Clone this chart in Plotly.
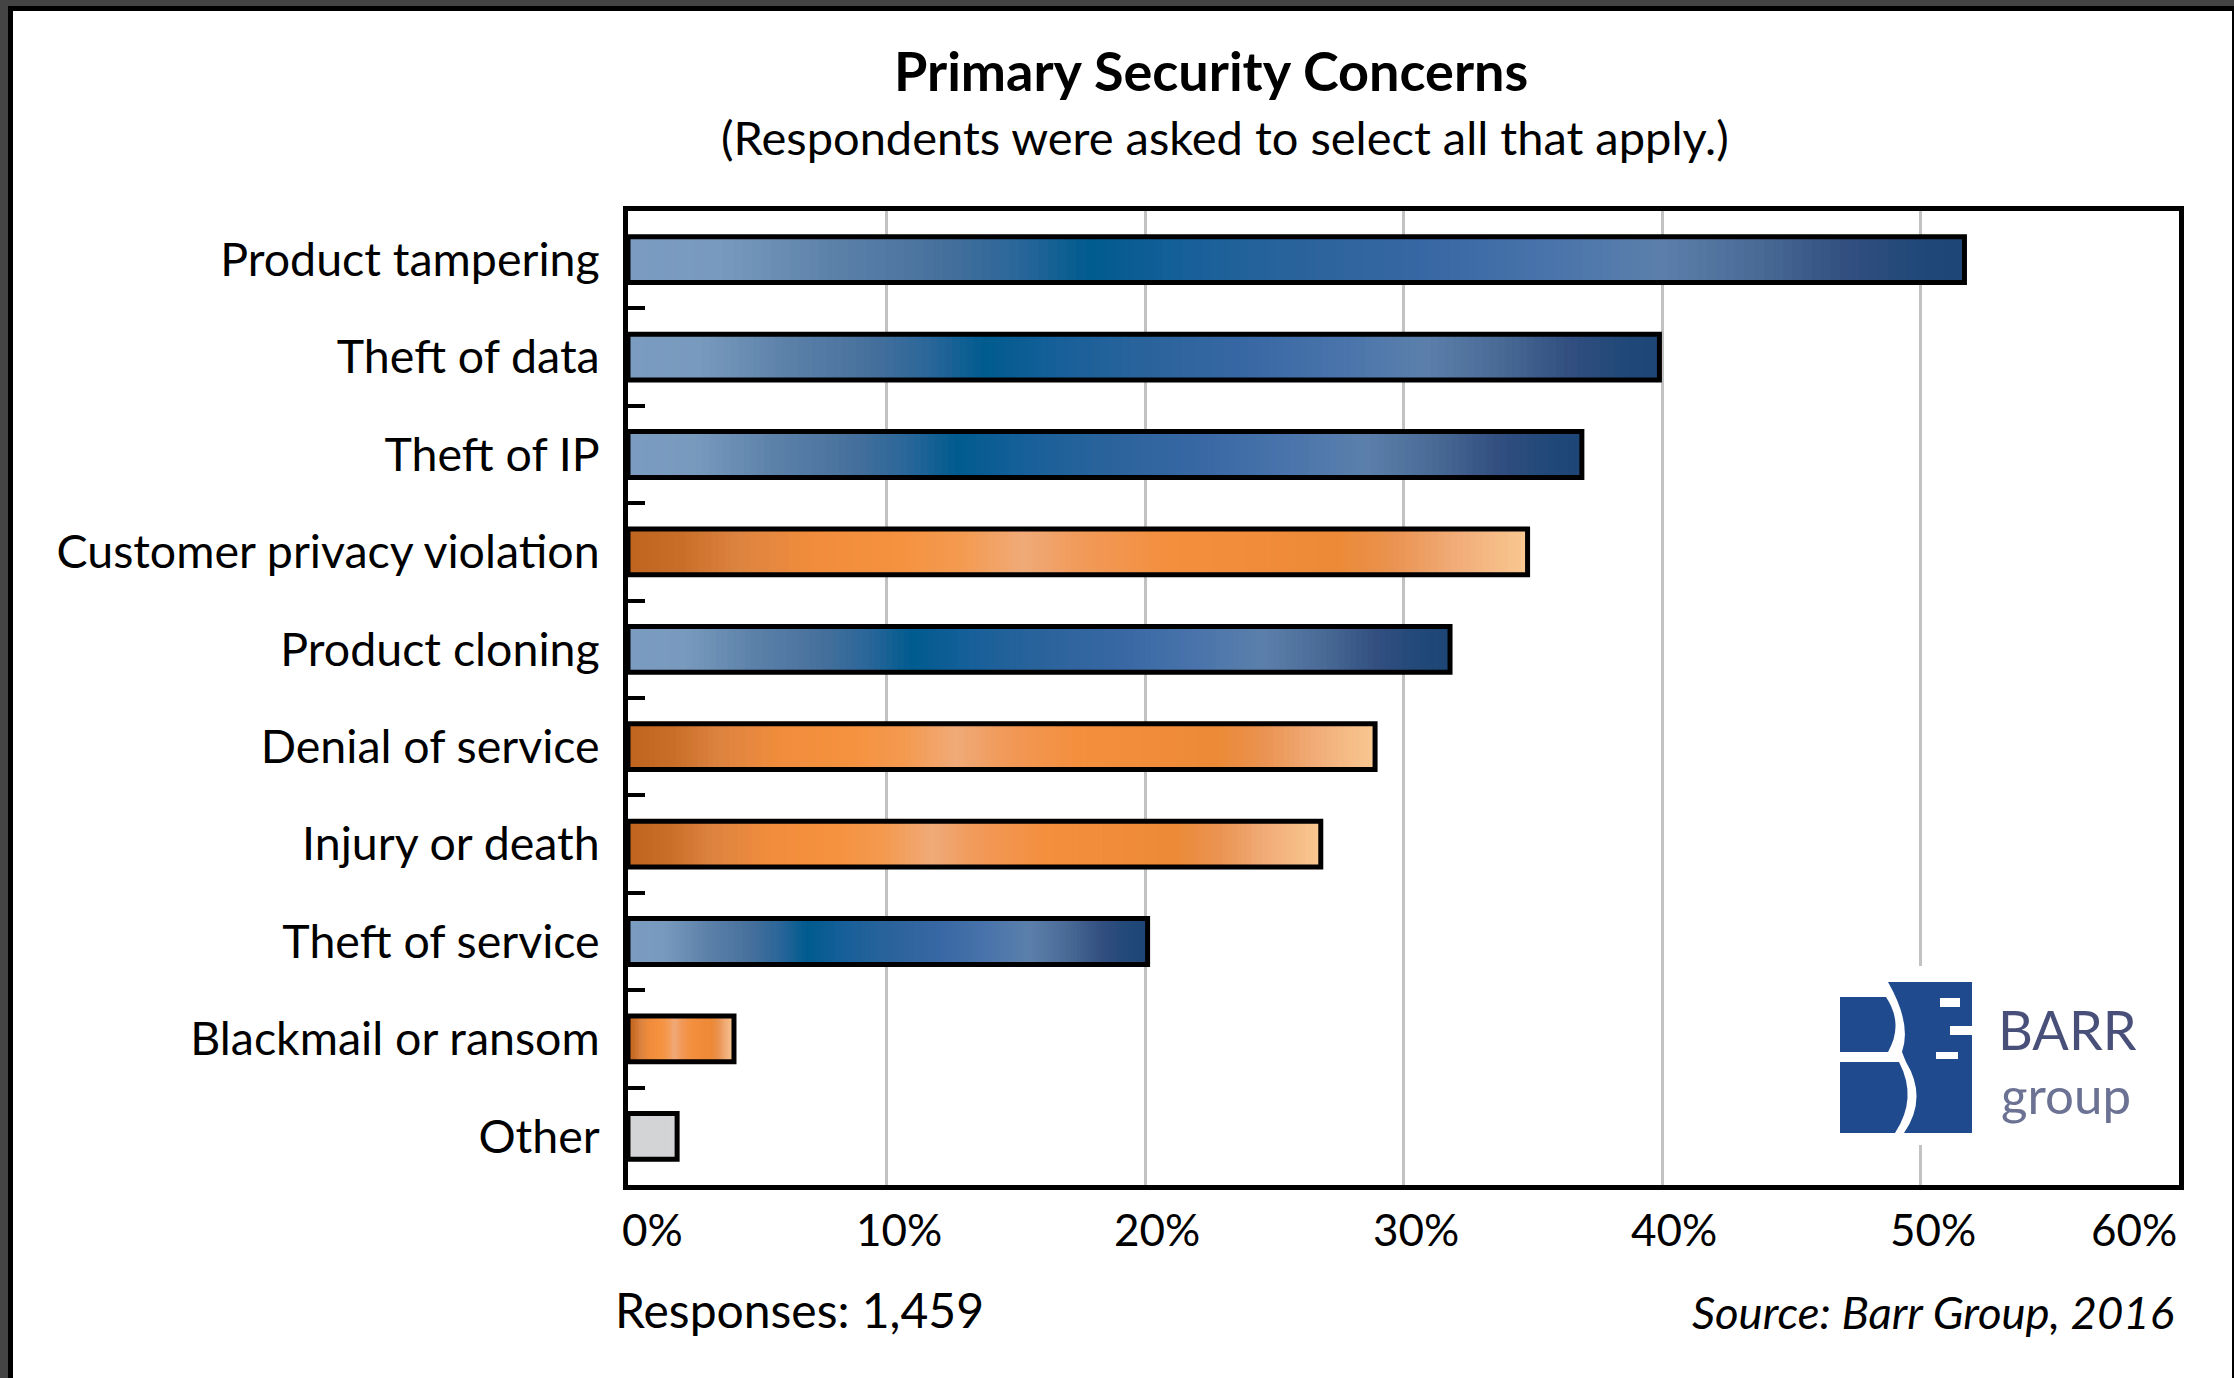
import plotly.graph_objects as go

# ---------------- data ----------------
categories = [
    "Product tampering",
    "Theft of data",
    "Theft of IP",
    "Customer privacy violation",
    "Product cloning",
    "Denial of service",
    "Injury or death",
    "Theft of service",
    "Blackmail or ransom",
    "Other",
]
values = [51.7, 39.9, 36.9, 34.8, 31.8, 28.9, 26.8, 20.1, 4.1, 1.9]
groups = ["blue", "blue", "blue", "orange", "blue", "orange", "orange", "blue", "orange", "gray"]
x_tick_values = [0, 10, 20, 30, 40, 50, 60]
x_tick_labels = ["0%", "10%", "20%", "30%", "40%", "50%", "60%"]
title_text = "Primary Security Concerns"
subtitle_text = "(Respondents were asked to select all that apply.)"
responses_text = "Responses: 1,459"
source_text = "Source: Barr Group, 2016"
logo_word1 = "BARR"
logo_word2 = "group"

# ---------------- styling ----------------
W, H = 2234, 1378
PL, PR, PT, PB = 628, 2179, 211, 1185  # plot area in pixels
FONT = "Lato, 'Open Sans', sans-serif"

def px(x):
    return (x - PL) / (PR - PL)

def py(y):
    return (PB - y) / (PB - PT)

gradients = {
    "blue": [(0.0, "#7b9cc1"), (0.07, "#789abd"), (0.15, "#5d82aa"), (0.236, "#46709c"),
             (0.293, "#2a6699"), (0.345, "#005b8f"), (0.42, "#18609a"), (0.5, "#2a639b"),
             (0.6, "#3868a4"), (0.695, "#4a74ab"), (0.773, "#5b80ab"), (0.846, "#4a6a96"),
             (0.91, "#324f80"), (0.97, "#1f4878"), (1.0, "#1e4676")],
    "orange": [(0.0, "#c0641e"), (0.06, "#c86e28"), (0.12, "#dc8340"), (0.2, "#f08c3c"),
               (0.3, "#f5923f"), (0.37, "#f49a50"), (0.44, "#f0aa78"), (0.5, "#f19a5a"),
               (0.6, "#f48f3e"), (0.7, "#f08c3a"), (0.79, "#ec8a37"), (0.85, "#ea9250"),
               (0.92, "#f1ac78"), (1.0, "#f9c891")],
    "gray": [(0.0, "#d3d4d6"), (1.0, "#d3d4d6")],
}

def hex2rgb(h):
    h = h.lstrip("#")
    return tuple(int(h[i:i + 2], 16) for i in (0, 2, 4))

def grad_color(name, t):
    stops = gradients[name]
    for (t0, c0), (t1, c1) in zip(stops[:-1], stops[1:]):
        if t0 <= t <= t1:
            f = 0 if t1 == t0 else (t - t0) / (t1 - t0)
            a, b = hex2rgb(c0), hex2rgb(c1)
            r = [round(a[i] + (b[i] - a[i]) * f) for i in range(3)]
            return "rgb(%d,%d,%d)" % tuple(r)
    return stops[-1][1]

BAR_W = 0.47
N = 140

fig = go.Figure()
# gradient fill: successive bar segments, each running from its start to the bar end
for k in range(N):
    t0 = k / N
    fig.add_trace(go.Bar(
        y=categories,
        x=[v * (1 - t0) for v in values],
        base=[v * t0 for v in values],
        orientation="h",
        width=BAR_W,
        marker=dict(color=[grad_color(g, (k + 0.5) / N) for g in groups], line=dict(width=0)),
        hoverinfo="skip",
        showlegend=False,
    ))
# outline
fig.add_trace(go.Bar(
    y=categories, x=values, orientation="h", width=BAR_W,
    marker=dict(color="rgba(0,0,0,0)", line=dict(color="black", width=5)),
    showlegend=False,
    hovertemplate="%{y}: %{x}%<extra></extra>",
))

shapes = [
    # frame: dark outer band, black line, white page
    dict(type="rect", xref="paper", yref="paper", x0=px(8), x1=px(2240), y0=py(1500), y1=py(6),
         fillcolor="black", line=dict(width=0), layer="below"),
    dict(type="rect", xref="paper", yref="paper", x0=px(13), x1=px(2232), y0=py(1500), y1=py(11),
         fillcolor="white", line=dict(width=0), layer="below"),
    # logo background
    dict(type="rect", xref="paper", yref="paper", x0=px(1826), x1=px(2155), y0=py(1145), y1=py(966),
         fillcolor="white", line=dict(width=0), layer="above"),
]
logo_blue = "#1f4b8e"

logo_paths = [
    # upper-left block
    "M {a},{b} L {c},{b} Q {d},{e} {c2},{f} L {a},{f} Z".format(
        a=px(1840), b=py(997), c=px(1886), d=px(1904), e=py(1024), c2=px(1888), f=py(1052)),
    # lower-left block
    "M {a},{b} L {c},{b} Q {d},{e} {c2},{f} L {a},{f} Z".format(
        a=px(1840), b=py(1062), c=px(1899), d=px(1918), e=py(1098), c2=px(1895), f=py(1133)),
    # right column following the white curve
    "M {x0},{y0} L {x1},{y0} L {x1},{y5} L {x2},{y5} Q {x3},{y4} {x4},{y3} L {x5},{y2} Q {x6},{y1} {x0},{y0} Z".format(
        x0=px(1888), x1=px(1972), x2=px(1904), x3=px(1928), x4=px(1906), x5=px(1902), x6=px(1912),
        y0=py(982), y1=py(1024), y2=py(1052), y3=py(1062), y4=py(1098), y5=py(1133)),
]
for p in logo_paths:
    shapes.append(dict(type="path", xref="paper", yref="paper", path=p,
                       fillcolor=logo_blue, line=dict(width=0), layer="above"))
# small white notches in the column (ampersand hint)
for (x0, x1, y0, y1) in [(1940, 1960, 998, 1007), (1950, 1972, 1026, 1035), (1936, 1958, 1052, 1059)]:
    shapes.append(dict(type="rect", xref="paper", yref="paper", x0=px(x0), x1=px(x1), y0=py(y1), y1=py(y0),
                       fillcolor="white", line=dict(width=0), layer="above"))

annotations = [
    dict(text="<b>%s</b>" % title_text, x=px(1211), y=py(70), xref="paper", yref="paper",
         xanchor="center", yanchor="middle", showarrow=False,
         font=dict(family=FONT, size=54, color="black")),
    dict(text=subtitle_text, x=px(1225), y=py(137), xref="paper", yref="paper",
         xanchor="center", yanchor="middle", showarrow=False,
         font=dict(family=FONT, size=47, color="black")),
    dict(text=responses_text, x=px(613), y=py(1309), xref="paper", yref="paper",
         xanchor="left", yanchor="middle", showarrow=False,
         font=dict(family=FONT, size=48, color="black")),
    dict(text="<i>%s</i>" % source_text, x=px(2176), y=py(1311), xref="paper", yref="paper",
         xanchor="right", yanchor="middle", showarrow=False,
         font=dict(family=FONT, size=45.5, color="black")),
    dict(text=logo_word1, x=px(2067), y=py(1029), xref="paper", yref="paper",
         xanchor="center", yanchor="middle", showarrow=False,
         font=dict(family=FONT, size=54, color="#48507a")),
    dict(text=logo_word2, x=px(2066), y=py(1094), xref="paper", yref="paper",
         xanchor="center", yanchor="middle", showarrow=False,
         font=dict(family=FONT, size=51, color="#6b7293")),
]
# x tick labels
for v, lab in zip(x_tick_values, x_tick_labels):
    if v == x_tick_values[0]:
        xa, xs = "left", -8
    elif v == x_tick_values[-1]:
        xa, xs = "right", 0
    else:
        xa, xs = "center", 12
    annotations.append(dict(text=lab, x=v, y=py(1229), xref="x", yref="paper",
                            xanchor=xa, xshift=xs, yanchor="middle", showarrow=False,
                            font=dict(family=FONT, size=44, color="black")))

fig.update_layout(
    width=W, height=H, autosize=False,
    margin=dict(l=PL, r=W - PR, t=PT, b=H - PB, pad=0),
    paper_bgcolor="#444444",
    plot_bgcolor="white",
    barmode="overlay",
    showlegend=False,
    shapes=shapes,
    annotations=annotations,
    xaxis=dict(range=[0, 60], tickvals=x_tick_values, showticklabels=False, ticks="",
               showgrid=True, gridcolor="#c2c2c2", gridwidth=2.5, zeroline=False,
               showline=True, mirror=True, linecolor="black", linewidth=5),
    yaxis=dict(categoryorder="array", categoryarray=categories, range=[9.5, -0.5],
               ticks="inside", tickson="boundaries", ticklen=17, tickwidth=4, tickcolor="black",
               showgrid=False, zeroline=False,
               showline=True, mirror=True, linecolor="black", linewidth=5,
               tickfont=dict(family=FONT, size=46.5, color="black"), ticklabelstandoff=14),
)

fig.write_html("out.html")
